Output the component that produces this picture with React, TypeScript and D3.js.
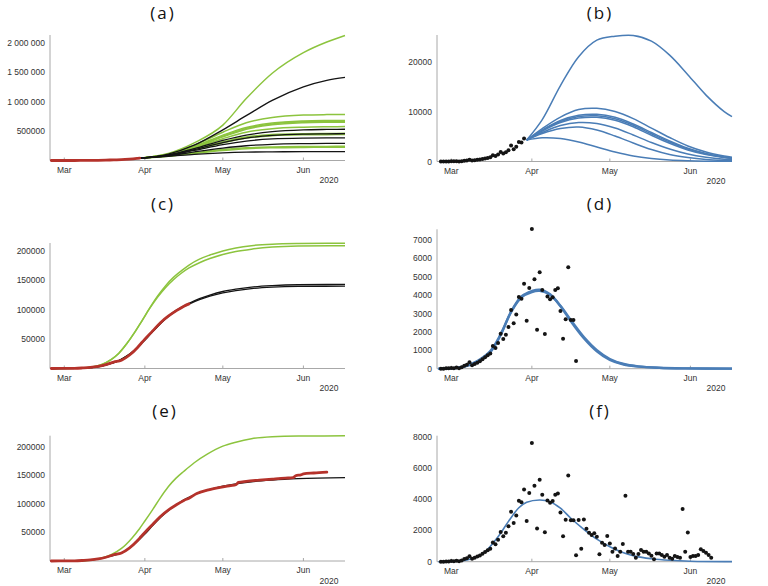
import React from 'react';
import * as d3 from 'd3';

// ---- shared axis data (days since 2020-03-01) ----
const monthTickDays = [0, 31, 61, 92];
const monthLabels = ['Mar', 'Apr', 'May', 'Jun'];
const yearLabel = '2020';

// ---- daily new cases (dots), consecutive days starting at dailyStart ----
const dailyStart = -4;
const dailyCases = [
  2, 4, 20, 19, 43, 30, 61, 21, 73,
  165, 220, 345, 183, 255, 330, 400, 508, 617, 726, 830, 1230, 1120, 1400, 1900, 1620, 1850, 2270, 3190,
  2470, 2950, 3900, 3810, 4620, 2610, 4390, 7600, 4860, 2120, 5240, 4280, 1890, 3920, 3770, 3880, 4280,
  4370, 3140, 1630, 2690, 5510, 2650, 2650, 420,
  2670, 830, 2700, 2100, 1850, 1700, 1820, 1600, 470, 1220, 1070, 1640, 1170, 640, 850, 360, 640, 1130,
  4220, 640, 640, 490, 260, 490, 750, 640, 640, 530, 380, 150, 530, 530, 430, 320, 430, 260, 190, 360,
  300, 260, 3370, 640, 1860, 300, 360, 360, 430, 790, 680, 580, 430, 260,
];

// ---- cumulative cases (thousands), red data ----
const cumDays = [-5, -2, 0, 4, 7, 10, 13, 16, 19, 22, 25, 28, 29, 31, 34, 37, 40, 43, 46, 48, 51, 55, 60, 64, 66, 67, 70, 75, 80, 85, 88, 89, 91, 92, 96, 101];
const cumCases = [0.01, 0.05, 0.13, 0.3, 0.9, 1.8, 3.6, 6.6, 10.9, 14, 22.5, 35, 40, 50, 64, 78, 89, 98, 106, 110, 118, 124, 129, 132, 133.5, 137.5, 139.5, 141.5, 143.3, 145, 145.8, 149.2, 150.8, 152.3, 154, 155.5];

// ---- panel (a): cumulative scenarios (thousands) ----
const aDays = [29, 40, 50, 61, 70, 80, 92, 101, 108];
const aGreen = [
  [40, 120, 300, 600, 1050, 1480, 1830, 2010, 2120],
  [40, 110, 260, 480, 640, 730, 770, 778, 780],
  [40, 105, 240, 430, 560, 635, 670, 678, 680],
  [40, 100, 230, 410, 545, 620, 655, 662, 665],
  [40, 100, 225, 400, 530, 605, 640, 648, 650],
  [40, 95, 210, 370, 480, 540, 565, 572, 575],
  [40, 90, 190, 320, 400, 440, 455, 458, 460],
  [40, 90, 180, 300, 380, 420, 435, 438, 440],
  [40, 75, 130, 185, 215, 230, 237, 239, 240],
  [40, 72, 120, 170, 200, 215, 222, 224, 225],
];
const aBlack = [
  [40, 110, 260, 520, 760, 1020, 1250, 1360, 1410],
  [40, 95, 200, 340, 430, 490, 520, 527, 530],
  [40, 90, 185, 305, 380, 425, 447, 452, 455],
  [40, 85, 170, 270, 330, 365, 380, 383, 385],
  [40, 80, 145, 210, 250, 275, 286, 289, 290],
  [40, 70, 105, 130, 142, 147, 150, 150, 150],
];

// ---- panel (b): daily scenarios ----
const bDays = [29, 35, 42, 49, 56, 63, 70, 77, 84, 91, 98, 105, 108];
const bCurves = [
  [4300, 8400, 15200, 21000, 24300, 25100, 25250, 24100, 21300, 17400, 13300, 10000, 9000],
  [4300, 6600, 8900, 10400, 10650, 10000, 8600, 6700, 4800, 3100, 1900, 1100, 850],
  [4300, 6300, 8200, 9250, 9450, 8850, 7500, 5800, 4100, 2650, 1600, 900, 700],
  [4300, 6200, 8000, 9000, 9150, 8550, 7250, 5550, 3900, 2500, 1500, 850, 650],
  [4300, 6100, 7800, 8700, 8850, 8250, 6950, 5250, 3650, 2300, 1380, 780, 580],
  [4300, 5800, 7200, 7800, 7600, 6700, 5300, 3800, 2500, 1500, 850, 450, 350],
  [4300, 5600, 6600, 6900, 6300, 5100, 3700, 2400, 1400, 800, 420, 220, 170],
  [4300, 4750, 4600, 3900, 2900, 1900, 1100, 600, 300, 150, 70, 35, 25],
];

// ---- panel (c): fits (thousands) ----
const cFitDays = [-5, 5, 10, 14, 18, 21, 24, 27, 30, 33, 36, 39, 42, 45, 48, 52, 56, 61, 66, 72, 80, 90, 108];
const cGreen = [
  [0, 0.4, 2, 6, 15, 26, 42, 61, 82, 104, 124, 141, 155, 166, 176, 186, 193, 200, 205, 209, 211.5, 212.5, 213],
  [0, 0.4, 2, 6, 15, 26, 42, 61, 82, 103, 122, 138, 151, 162, 171, 180, 187, 194, 199, 203, 206.5, 208.3, 209],
];
const cBlack = [
  [0, 0.3, 1.5, 3.6, 8.5, 13.5, 21, 31, 44, 58, 72, 85, 96, 104, 111, 119, 125, 131, 135, 138.5, 141, 142.5, 143],
  [0, 0.3, 1.5, 3.6, 8.5, 13.5, 21, 31, 44, 58, 72, 84.5, 95, 103, 109.5, 117, 123, 128.5, 132.5, 136, 138.5, 139.7, 140],
];

// ---- panel (d): daily fits ----
const dFitDays = [-5, 0, 5, 10, 15, 19, 23, 27, 31, 34, 38, 42, 46, 51, 56, 61, 66, 72, 80, 90, 108];
const dFits = [
  [0, 15, 110, 380, 900, 1830, 3100, 3930, 4220, 4300, 4050, 3400, 2580, 1660, 950, 480, 240, 110, 45, 15, 2],
  [0, 20, 130, 420, 960, 1880, 3080, 3880, 4170, 4230, 4020, 3420, 2640, 1720, 1010, 530, 270, 125, 50, 17, 2],
];

// ---- panel (e): fits (thousands) ----
const eFitDays = [-5, 5, 10, 14, 18, 22, 26, 29, 31, 34, 37, 40, 43, 46, 50, 55, 61, 66, 72, 80, 90, 108];
const eGreen = [0, 0.3, 1.5, 5, 11, 22, 40, 57, 70, 90, 111, 130, 145, 157, 172, 187, 201, 208, 214, 217.5, 218.7, 219];
const eBlack = [0, 0.3, 1.6, 4, 8.5, 14, 26, 38, 47, 62, 76, 88, 98, 107, 116, 124, 131, 135, 138.5, 141.5, 144, 146];

// ---- panel (f): daily fit ----
const fFitDays = [-5, 0, 6, 12, 18, 22, 26, 29, 34, 38, 42, 46, 51, 56, 61, 66, 71, 77, 84, 92, 108];
const fFit = [0, 20, 107, 500, 1600, 2580, 3450, 3800, 3950, 3840, 3420, 2780, 2070, 1440, 960, 590, 340, 190, 90, 30, 3];

// ---- y ticks ----
const aTicks = [500, 1000, 1500, 2000];
const aTickLabels = ['500000', '1 000 000', '1 500 000', '2 000 000'];
const bTicks = [0, 10000, 20000];
const ceTicks = [50, 100, 150, 200];
const ceTickLabels = ['50000', '100000', '150000', '200000'];
const dTicks = [0, 1000, 2000, 3000, 4000, 5000, 6000, 7000];
const fTicks = [0, 2000, 4000, 6000, 8000];

const GREEN = '#8cc43e';
const BLACK = '#141414';
const RED = '#b5322b';
const BLUE = '#4a7db6';
const AXIS = '#a8a8a8';
const LABEL = '#333';
const FONT = "'Liberation Sans', Arial, sans-serif";

type Scales = { x: d3.ScaleLinear<number, number>; y: d3.ScaleLinear<number, number> };

function linePath(s: Scales, days: number[], vals: number[], bell = false) {
  const pts: [number, number][] = days.map((d, i) => [d, vals[i]]);
  return d3.line<[number, number]>()
    .x((p) => s.x(p[0]))
    .y((p) => s.y(Math.max(0, p[1])))
    .curve(bell ? d3.curveCatmullRom.alpha(0.5) : d3.curveMonotoneX)(pts) || '';
}

function redPath(s: Scales, maxDay: number) {
  const idx = cumDays.map((d, i) => i).filter((i) => cumDays[i] <= maxDay);
  return linePath(s, idx.map((i) => cumDays[i]), idx.map((i) => cumCases[i]));
}

function dots(s: Scales, maxDay: number) {
  return dailyCases
    .map((v, i) => ({ d: dailyStart + i, v }))
    .filter((p) => p.d <= maxDay)
    .map((p, i) => <circle key={'dot' + i} cx={s.x(p.d)} cy={s.y(p.v)} r={2} fill={BLACK} />);
}

interface PanelProps {
  x0: number; base: number; top: number; yMax: number;
  ticks: number[]; tickLabels: string[];
  title: string; titleX: number; titleY: number;
  render: (s: Scales) => React.ReactNode;
}

function Panel(p: PanelProps) {
  const x = d3.scaleLinear().domain([-5.5, 108]).range([p.x0, p.x0 + 295]);
  const y = d3.scaleLinear().domain([0, p.yMax]).range([p.base, p.top]);
  const s = { x, y };
  return (
    <g>
      <text x={p.titleX} y={p.titleY} textAnchor="middle" fontFamily="'Open Sans', 'DejaVu Sans', sans-serif"
        fontSize={17} letterSpacing={2} fill="#111">{p.title}</text>
      <line x1={p.x0} x2={p.x0} y1={p.base} y2={p.top} stroke={AXIS} strokeWidth={1} />
      <line x1={p.x0} x2={p.x0 + 295} y1={p.base} y2={p.base} stroke={AXIS} strokeWidth={1} />
      {monthTickDays.map((d, i) => (
        <g key={'m' + i}>
          <line x1={x(d)} x2={x(d)} y1={p.base} y2={p.base - 3} stroke={AXIS} />
          <text x={x(d)} y={p.base + 12} textAnchor="middle" fontFamily={FONT} fontSize={8.5} fill={LABEL}>
            {monthLabels[i]}
          </text>
        </g>
      ))}
      <text x={p.x0 + 279} y={p.base + 22.5} textAnchor="middle" fontFamily={FONT} fontSize={8.5} fill={LABEL}>
        {yearLabel}
      </text>
      {p.ticks.map((t, i) => (
        <text key={'t' + i} x={p.x0 - 5} y={y(t) + 3} textAnchor="end" fontFamily={FONT} fontSize={8.5} fill={LABEL}>
          {p.tickLabels[i]}
        </text>
      ))}
      {p.render(s)}
    </g>
  );
}

export default function App() {
  return (
    <svg width={768} height={586} style={{ position: 'absolute', left: 0, top: 0, background: '#fff' }}>
      <rect width={768} height={586} fill="#fff" />
      <Panel x0={50} base={160.5} top={35} yMax={2128} ticks={aTicks} tickLabels={aTickLabels}
        title="(a)" titleX={163} titleY={19}
        render={(s) => (
          <g fill="none">
            {aGreen.map((c, i) => <path key={'ag' + i} d={linePath(s, aDays, c)} stroke={GREEN} strokeWidth={1.5} />)}
            {aBlack.map((c, i) => <path key={'ab' + i} d={linePath(s, aDays, c)} stroke={BLACK} strokeWidth={1.3} />)}
            <path d={redPath(s, 29)} stroke={RED} strokeWidth={2.8} strokeLinecap="round" />
          </g>
        )} />
      <Panel x0={437} base={161.5} top={35} yMax={25340} ticks={bTicks} tickLabels={bTicks.map(String)}
        title="(b)" titleX={600} titleY={19}
        render={(s) => (
          <g>
            {bCurves.map((c, i) => <path key={'bc' + i} d={linePath(s, bDays, c, true)} stroke={BLUE} strokeWidth={1.5} fill="none" />)}
            {dots(s, 28)}
          </g>
        )} />
      <Panel x0={50} base={368.5} top={243} yMax={213.5} ticks={ceTicks} tickLabels={ceTickLabels}
        title="(c)" titleX={163} titleY={210}
        render={(s) => (
          <g fill="none">
            {cGreen.map((c, i) => <path key={'cg' + i} d={linePath(s, cFitDays, c)} stroke={GREEN} strokeWidth={1.5} />)}
            {cBlack.map((c, i) => <path key={'cb' + i} d={linePath(s, cFitDays, c)} stroke={BLACK} strokeWidth={1.3} />)}
            <path d={redPath(s, 48)} stroke={RED} strokeWidth={2.8} strokeLinecap="round" />
          </g>
        )} />
      <Panel x0={437} base={368.7} top={229.3} yMax={7580} ticks={dTicks} tickLabels={dTicks.map(String)}
        title="(d)" titleX={600} titleY={210}
        render={(s) => (
          <g>
            {dFits.map((c, i) => <path key={'df' + i} d={linePath(s, dFitDays, c, true)} stroke={BLUE} strokeWidth={2.4} fill="none" />)}
            {dots(s, 48)}
          </g>
        )} />
      <Panel x0={50} base={561} top={435.7} yMax={219.3} ticks={ceTicks} tickLabels={ceTickLabels}
        title="(e)" titleX={165} titleY={417}
        render={(s) => (
          <g fill="none">
            <path d={linePath(s, eFitDays, eGreen)} stroke={GREEN} strokeWidth={1.5} />
            <path d={linePath(s, eFitDays, eBlack)} stroke={BLACK} strokeWidth={1.3} />
            <path d={redPath(s, 101)} stroke={RED} strokeWidth={2.8} strokeLinecap="round" />
          </g>
        )} />
      <Panel x0={437} base={561.7} top={435.7} yMax={8060} ticks={fTicks} tickLabels={fTicks.map(String)}
        title="(f)" titleX={600} titleY={417}
        render={(s) => (
          <g>
            <path d={linePath(s, fFitDays, fFit, true)} stroke={BLUE} strokeWidth={1.6} fill="none" />
            {dots(s, 101)}
          </g>
        )} />
    </svg>
  );
}
